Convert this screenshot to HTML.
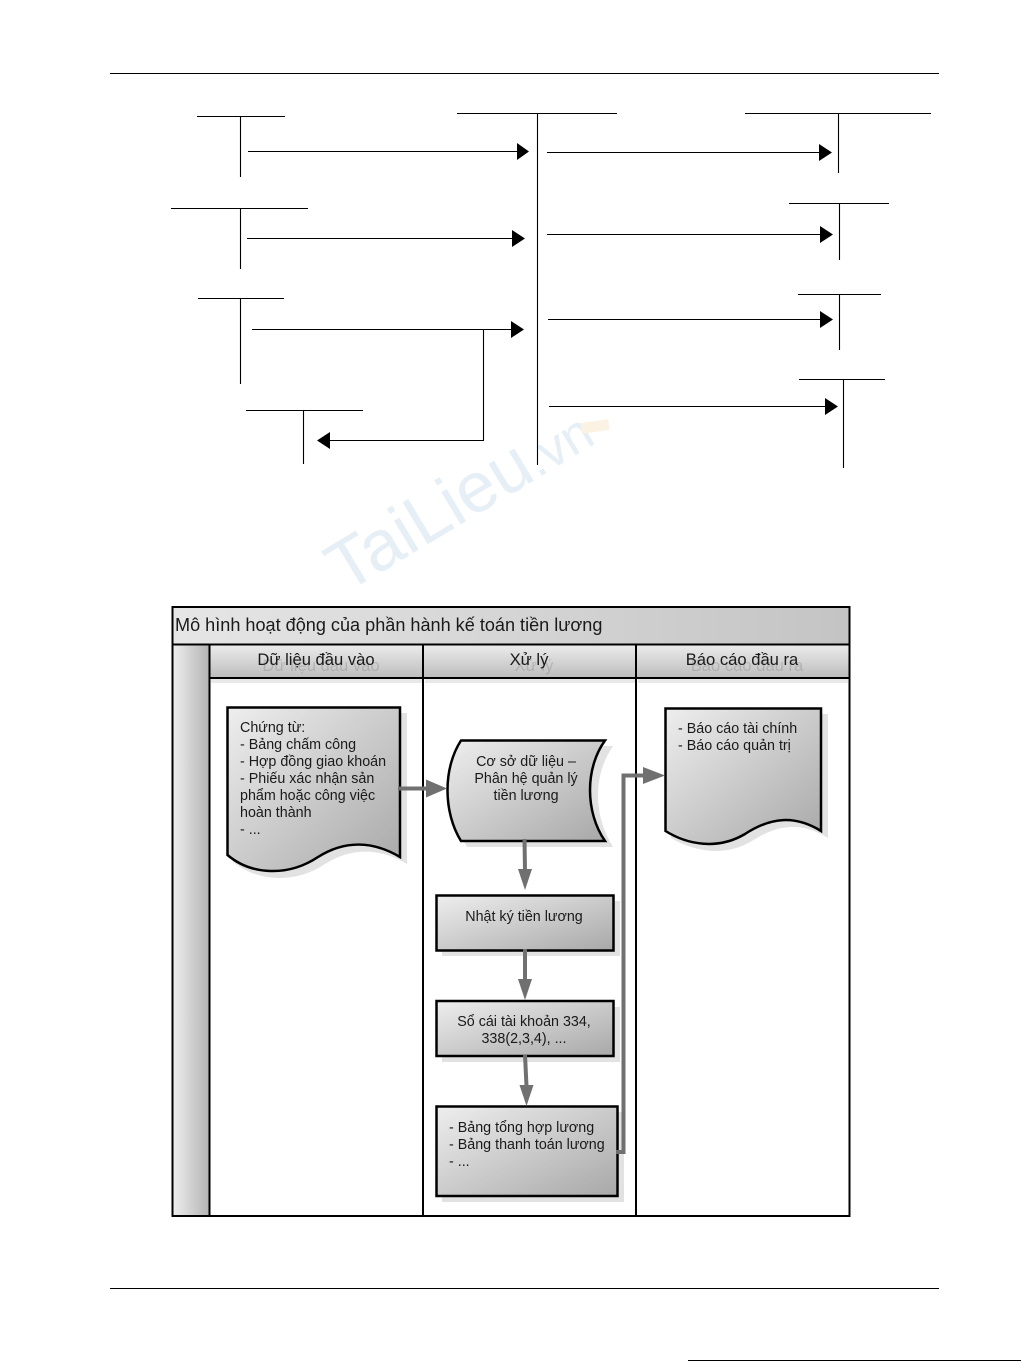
<!DOCTYPE html>
<html><head><meta charset="utf-8"><style>
html,body{margin:0;padding:0;background:#fff}
svg{display:block}
text{font-family:"Liberation Sans",sans-serif;fill:#1a1a1a}
</style></head><body>
<svg width="1021" height="1361" viewBox="0 0 1021 1361" xmlns="http://www.w3.org/2000/svg">
<defs>
<linearGradient id="g" x1="0" y1="0" x2="1" y2="1"><stop offset="0" stop-color="#eeeeee"/><stop offset="1" stop-color="#a8a8a8"/></linearGradient>
<linearGradient id="h" x1="0" y1="0" x2="0" y2="1"><stop offset="0" stop-color="#ececec"/><stop offset="1" stop-color="#bcbcbc"/></linearGradient>
<linearGradient id="t" x1="0" y1="0" x2="1" y2="0"><stop offset="0" stop-color="#e6e6e6"/><stop offset="1" stop-color="#c4c4c4"/></linearGradient>
<linearGradient id="v" x1="0" y1="0" x2="1" y2="0"><stop offset="0" stop-color="#eeeeee"/><stop offset="1" stop-color="#b4b4b4"/></linearGradient>
</defs>
<rect width="1021" height="1361" fill="#fff"/>

<!-- page rules -->
<g stroke="#000" stroke-width="1" fill="none">
<path d="M110 73.500H939M110 1288.500H939M688 1360.500H1021"/>
</g>

<!-- watermark -->
<text transform="translate(345 594) rotate(-31)" font-size="71" style="fill:#e6eff6">TaiLieu<tspan font-size="52">.vn</tspan></text>
<rect x="581" y="421" width="28" height="11" transform="rotate(-8 595 426)" fill="#fcf2e4"/>

<!-- top T-account diagram -->
<g stroke="#000" stroke-width="1.100" fill="none">
<path d="M197 116.500H285M240.500 116V177"/>
<path d="M171 208.500H308M240.500 208V269"/>
<path d="M198 298.500H284M240.500 298V384"/>
<path d="M246 410.500H363M303.500 410V464"/>
<path d="M457 113.500H617M537.500 113V465"/>
<path d="M745 113.500H931M838.500 113V173"/>
<path d="M789 203.500H889M839.500 203V260"/>
<path d="M798 294.500H881M839.500 294V350"/>
<path d="M799 379.500H885M843.500 379V468"/>
<path d="M248 151.500H518"/>
<path d="M247 238.500H513"/>
<path d="M252 329.500H512"/>
<path d="M483.500 330V440.500H329"/>
<path d="M547 152.500H820"/>
<path d="M547 234.500H821"/>
<path d="M548 319.500H821"/>
<path d="M549 406.500H825"/>
</g>
<g fill="#000">
<path d="M517 143L529 151.500L517 160Z"/>
<path d="M512 230L525 238.500L512 247Z"/>
<path d="M511 321L524 329.500L511 338Z"/>
<path d="M330 432L317 440.500L330 449Z"/>
<path d="M819 144L832 152.500L819 161Z"/>
<path d="M820 226L833 234.500L820 243Z"/>
<path d="M820 311L833 319.500L820 328Z"/>
<path d="M825 398L838 406.500L825 415Z"/>
</g>

<!-- swimlane frame -->
<rect x="173" y="607" width="676" height="37" fill="url(#t)"/>
<rect x="173" y="645" width="36" height="571" fill="url(#v)"/>
<rect x="210" y="645" width="213" height="33" fill="url(#h)"/>
<rect x="423" y="645" width="213" height="33" fill="url(#h)"/>
<rect x="636" y="645" width="213" height="33" fill="url(#h)"/>
<rect x="211" y="679" width="211" height="4" fill="#e8e8e8"/>
<rect x="425" y="679" width="210" height="4" fill="#e8e8e8"/>
<rect x="638" y="679" width="210" height="4" fill="#e8e8e8"/>

<!-- header ghost shadows -->
<g font-size="16.600" text-anchor="middle" style="opacity:.14">
<text x="321" y="671">Dữ liệu đầu vào</text>
<text x="534" y="671">Xử lý</text>
<text x="747" y="671">Báo cáo đầu ra</text>
</g>

<g stroke="#000" fill="none">
<rect x="172.500" y="607" width="677" height="609" stroke-width="2"/>
<path d="M172 644.500H850M209.500 644V1216M423 644V1216M636 644V1216M209 678H850" stroke-width="2"/>
</g>

<text x="175" y="631" font-size="18.100">Mô hình hoạt động của phần hành kế toán tiền lương</text>
<g font-size="16.600" text-anchor="middle">
<text x="316" y="665">Dữ liệu đầu vào</text>
<text x="529" y="665">Xử lý</text>
<text x="742" y="665">Báo cáo đầu ra</text>
</g>

<!-- shape shadows -->
<g fill="#e2e2e2">
<path d="M233 713H407V864C380 848 352 847 325 864C295 884 258 882 233 862Z"/>
<path d="M671 714H828V838C802 822 778 824 752 841C725 857 695 852 671 838Z"/>
<path d="M467 746H613C593 775 593 815 613 847H467C448 815 448 775 467 746Z"/>
<rect x="442" y="901" width="178" height="55"/>
<rect x="442" y="1007" width="178" height="55"/>
<rect x="442" y="1112" width="182" height="90"/>
</g>

<!-- shapes -->
<g fill="url(#g)" stroke="#000" stroke-width="2.500" stroke-linejoin="miter">
<path d="M227.500 707.500H400V857C373 841 345 840 318 857C288 877 251 875 227.500 855Z"/>
<path d="M665.500 708.500H821V831C795 815 771 817 745 834C718 850 688 845 665.500 831Z"/>
<path d="M461 740.500H605C585 768 585 812 605 841H461C443 812 443 768 461 740.500Z"/>
<rect x="436.500" y="895.500" width="177" height="55"/>
<rect x="436.500" y="1001" width="177" height="55"/>
<rect x="436.500" y="1106.500" width="181" height="89.500"/>
</g>

<!-- connectors -->
<g stroke="#707070" stroke-width="4" fill="none">
<path d="M398 788.500H428"/>
<path d="M524.500 839L525 871"/>
<path d="M525 949V981"/>
<path d="M525 1055L526.500 1086"/>
<path d="M616 1152H623.500V775.500H645"/>
</g>
<g fill="#707070">
<path d="M426 779.500L447 788.500L426 797.500Z"/>
<path d="M518 869H532L525 890Z"/>
<path d="M518 979H532L525 1000Z"/>
<path d="M519.500 1085H533.500L526.500 1106Z"/>
<path d="M643 767L665 775.500L643 784Z"/>
</g>

<!-- shape text -->
<g font-size="14.300">
<text x="240" y="732">Chứng từ:</text>
<text x="240" y="749">- Bảng chấm công</text>
<text x="240" y="766">- Hợp đồng giao khoán</text>
<text x="240" y="783">- Phiếu xác nhận sản</text>
<text x="240" y="800">phẩm hoặc công việc</text>
<text x="240" y="817">hoàn thành</text>
<text x="240" y="834">- ...</text>
<text x="678" y="733">- Báo cáo tài chính</text>
<text x="678" y="750">- Báo cáo quản trị</text>
<text x="449" y="1132">- Bảng tổng hợp lương</text>
<text x="449" y="1149">- Bảng thanh toán lương</text>
<text x="449" y="1166">- ...</text>
</g>
<g font-size="14.300" text-anchor="middle">
<text x="526" y="766">Cơ sở dữ liệu –</text>
<text x="526" y="783">Phân hệ quản lý</text>
<text x="526" y="800">tiền lương</text>
<text x="524" y="921">Nhật ký tiền lương</text>
<text x="524" y="1026">Sổ cái tài khoản 334,</text>
<text x="524" y="1043">338(2,3,4), ...</text>
</g>
</svg>
</body></html>
